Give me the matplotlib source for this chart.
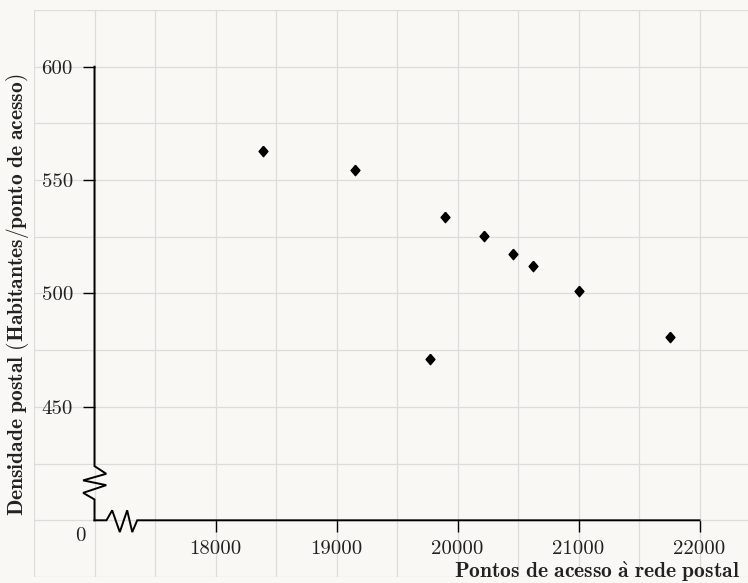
import matplotlib
matplotlib.use('Agg')
import matplotlib.pyplot as plt
from matplotlib.ticker import MultipleLocator

plt.rcParams['font.family'] = 'serif'
plt.rcParams['font.serif'] = ['cmr10', 'DejaVu Serif']
plt.rcParams['mathtext.fontset'] = 'cm'
plt.rcParams['axes.unicode_minus'] = False

# data
pontos = [18391, 19151, 19895, 20215, 19771, 20455, 20628, 21008, 21758]
densidade = [563.0, 554.6, 533.9, 525.2, 470.9, 517.6, 512.1, 500.9, 481.0]

xticks = [18000, 19000, 20000, 21000, 22000]
yticks = [450, 500, 550, 600]

# broken axis geometry (origin drawn at x=17000, y=400, labelled 0)
x0, y0 = 17000, 400
vx = [x0, x0, x0 + 97, x0 - 94, x0 + 97, x0 - 94, x0, x0]
vy = [600, 423.9, 420.5, 417.6, 415.5, 412.1, 409.2, y0]
hx = [x0, 17099, 17146, 17209, 17270, 17312, 17353, 22000]
hy = [y0, y0, 404.4, 394.8, 404.4, 394.8, y0, y0]

# pgfplots style diamond (a bit taller than wide)
diamond = [(0, 1), (0.85, 0), (0, -1), (-0.85, 0), (0, 1)]

bg = '#faf8f4'
W, H = 748, 583
fig = plt.figure(figsize=(W / 100, H / 100), dpi=100, facecolor=bg)
ax = fig.add_axes([34 / W, 6 / H, 726 / W, 567 / H])
ax.set_facecolor(bg)

ax.set_xlim(16500, 22500)
ax.set_ylim(375, 625)

ax.plot(pontos, densidade, linestyle='none', marker=diamond, ms=7.5,
        color='black', zorder=5)

# axis lines with zigzag breaks
ax.plot(vx, vy, color='black', lw=1.4, clip_on=False, zorder=4,
        solid_joinstyle='miter')
ax.plot(hx, hy, color='black', lw=1.4, clip_on=False, zorder=4,
        solid_joinstyle='miter')

for s in ax.spines.values():
    s.set_visible(False)
ax.spines['left'].set_position(('data', x0))
ax.spines['bottom'].set_position(('data', y0))

ax.set_xticks(xticks)
ax.set_xticklabels([str(v) for v in xticks])
ax.set_yticks(yticks)
ax.set_yticklabels([str(v) for v in yticks])
ax.xaxis.set_minor_locator(MultipleLocator(500))
ax.yaxis.set_minor_locator(MultipleLocator(25))
ax.tick_params(which='major', direction='out', length=8.5, width=1.0,
               color='black', labelsize=15, labelcolor='#222222')
ax.tick_params(axis='x', pad=6)
ax.tick_params(axis='y', pad=7)
ax.tick_params(which='minor', length=0)
ax.grid(True, which='both', color='#dedcda', lw=0.9, zorder=0)
ax.set_axisbelow(True)

ax.annotate('0', xy=(x0, y0), xytext=(-10.5, -11.5), textcoords='offset points',
            ha='center', va='center', fontsize=15, color='#222222',
            annotation_clip=False)

fig.text(740 / W, 1 - 572 / H,
         r'$\mathbf{Pontos\ de\ acesso\ \grave{a}\ rede\ postal}$',
         ha='right', va='center', fontsize=15.5, color='#222222')
fig.text(18 / W, 1 - 295 / H,
         r'$\mathbf{Densidade\ postal\ (Habitantes/ponto\ de\ acesso)}$',
         ha='center', va='center', rotation=90, fontsize=15.5, color='#222222')

fig.savefig('out.png', dpi=100, facecolor=bg)
